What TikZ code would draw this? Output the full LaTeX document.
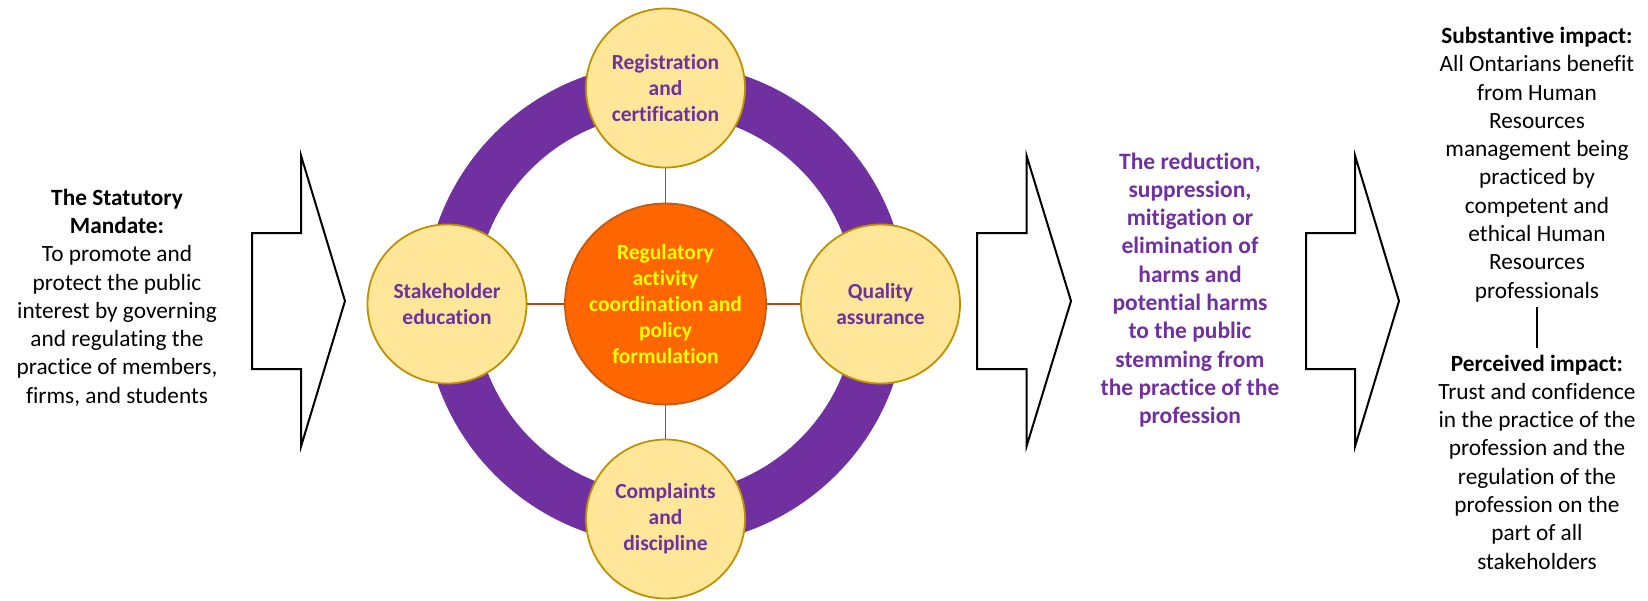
\documentclass[tikz,border=0pt]{standalone}
\usepackage{fontspec}
\setmainfont{Carlito}[Ligatures=NoCommon]
\definecolor{rpurple}{HTML}{7030A0}
\definecolor{satfill}{HTML}{FFE699}
\definecolor{satborder}{HTML}{BF9000}
\definecolor{corefill}{HTML}{FF6600}
\definecolor{coreborder}{HTML}{C55A11}
\definecolor{linkred}{HTML}{B5451B}
\definecolor{coretext}{HTML}{FFFF00}
\begin{document}
\begin{tikzpicture}[x=1pt,y=-1pt,
  bigarrow/.style={draw=black, line width=2pt, fill=white, line join=miter},
  sat/.style={circle, draw=satborder, fill=satfill, line width=1.8pt, minimum size=159pt, inner sep=0pt, align=center, text=rpurple, font=\fontsize{21.5pt}{26pt}\selectfont\bfseries},
  core/.style={circle, draw=coreborder, fill=corefill, line width=1.8pt, minimum size=201pt, inner sep=0pt, align=center, text=coretext, font=\fontsize{21.5pt}{26pt}\selectfont\bfseries},
  link/.style={draw=linkred, line width=1.6pt},
  plain/.style={align=center, inner sep=0pt, text=black, font=\fontsize{23.3pt}{28.3pt}\selectfont},
  outcome/.style={align=center, inner sep=0pt, text=rpurple, font=\fontsize{23.5pt}{28.3pt}\selectfont\bfseries}
]
\useasboundingbox (0,0) rectangle (1648,600);

% block arrows
\draw[bigarrow] (252,233) -- (301,233) -- (301,155.5) -- (345,301) -- (301,446.5) -- (301,369) -- (252,369) -- cycle;
\draw[bigarrow] (977,233) -- (1026.5,233) -- (1026.5,155.5) -- (1071,301) -- (1026.5,446.5) -- (1026.5,369) -- (977,369) -- cycle;
\draw[bigarrow] (1306,233) -- (1355,233) -- (1355,155.5) -- (1399,301) -- (1355,446.5) -- (1355,369) -- (1306,369) -- cycle;

% ring
\coordinate (O) at (665.5,304);
\draw[rpurple, line width=51pt] (O) circle[radius=216pt];

% circles
\node[core] (core) at (O) {Regulatory\\activity\\coordination and\\policy\\formulation};
\node[sat] (top) at (665.5,88) {Registration\\and\\certification};
\node[sat] (bot) at (665.5,519) {Complaints\\and\\discipline};
\node[sat] (lft) at (447,304) {Stakeholder\\education};
\node[sat] (rgt) at (880.5,304) {Quality\\assurance};

\draw[link] (core) -- (top);
\draw[link] (core) -- (bot);
\draw[link] (core) -- (lft);
\draw[link] (core) -- (rgt);

% texts
\node[plain] (mandate) at (117,297.5) {\textbf{The Statutory}\\\textbf{Mandate:}\\To promote and\\protect the public\\interest by governing\\and regulating the\\practice of members,\\firms, and students};

\node[outcome] (harms) at (1190,290) {The reduction,\\suppression,\\mitigation or\\elimination of\\harms and\\potential harms\\to the public\\stemming from\\the practice of the\\profession};

\node[plain] (subst) at (1537,164.5) {\textbf{Substantive impact:}\\All Ontarians benefit\\from Human\\Resources\\management being\\practiced by\\competent and\\ethical Human\\Resources\\professionals};

\node[plain] (perc) at (1537,462) {\textbf{Perceived impact:}\\Trust and confidence\\in the practice of the\\profession and the\\regulation of the\\profession on the\\part of all\\stakeholders};

\draw[black, line width=1.5pt, shorten <=5pt, shorten >=6pt] (subst.south) -- (perc.north);
\end{tikzpicture}
\end{document}
